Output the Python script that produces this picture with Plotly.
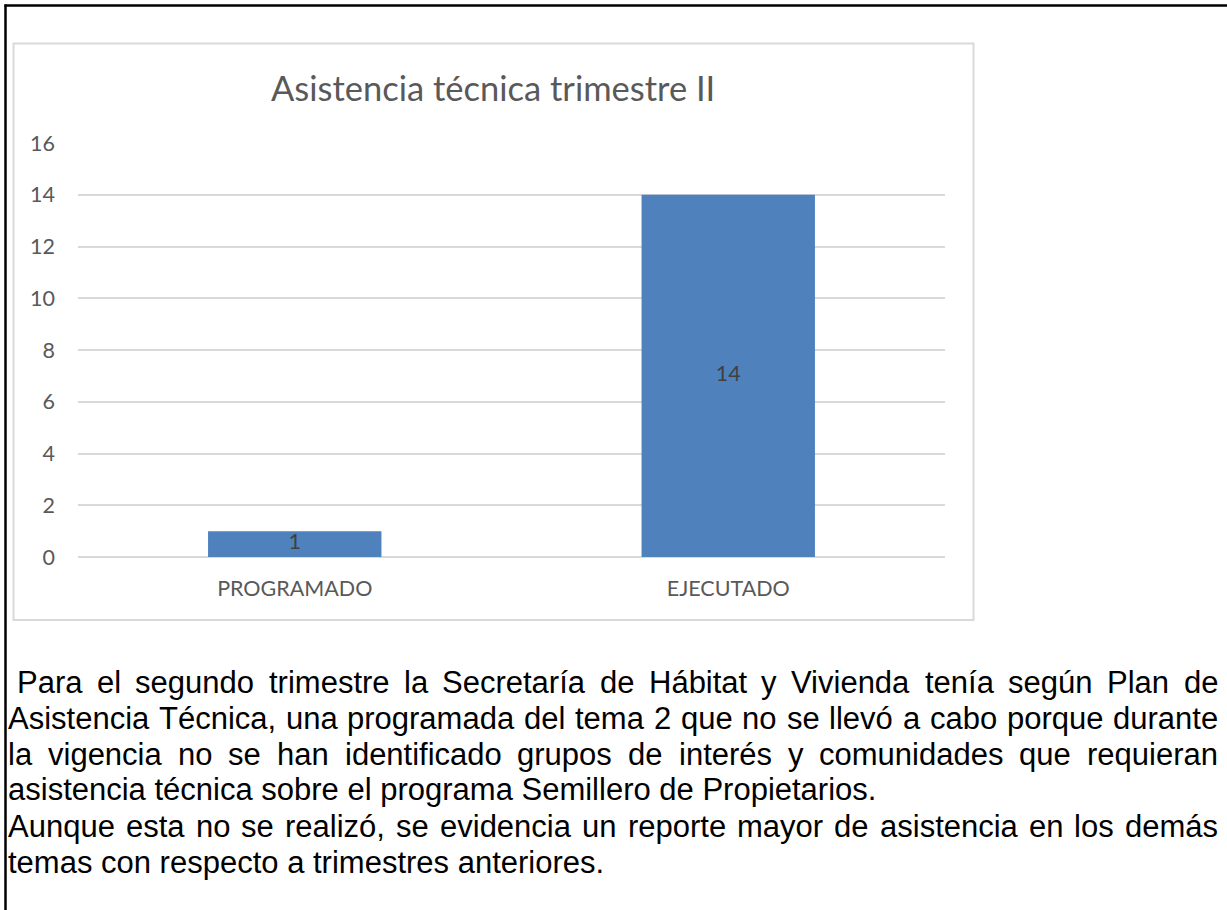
import plotly.graph_objects as go

# ---- data -------------------------------------------------------------
categories = ["PROGRAMADO", "EJECUTADO"]
values = [1, 14]
y_ticks = [0, 2, 4, 6, 8, 10, 12, 14, 16]

title_text = "Asistencia técnica trimestre II"

# paragraph under the chart: (line text, justified?)
paragraph_lines = [
    (" Para el segundo trimestre la Secretaría de Hábitat y Vivienda tenía según Plan de", True),
    ("Asistencia Técnica, una programada del tema 2 que no se llevó a cabo porque durante", True),
    ("la vigencia no se han identificado grupos de interés y comunidades que requieran", True),
    ("asistencia técnica sobre el programa Semillero de Propietarios.", False),
    ("Aunque esta no se realizó, se evidencia un reporte mayor de asistencia en los demás", True),
    ("temas con respecto a trimestres anteriores.", False),
]

# ---- geometry of the page (pixels) -------------------------------------
FIG_W, FIG_H = 1227, 910
PL, PR, PT, PB = 78, 945, 143, 557          # plot area edges
PW, PH = PR - PL, PB - PT


def px_x(p):
    return (p - PL) / PW


def px_y(p):
    return (PB - p) / PH


CHART_FONT = "Lato"
TEXT_FONT = "Liberation Sans"
GREY = "#595959"
TICK_SIZE = 21.5

fig = go.Figure()

fig.add_trace(go.Bar(
    x=categories, y=values,
    marker=dict(color="#4F81BD", line=dict(width=0)),
    hoverinfo="skip",
))

# value labels centred in each bar
fig.add_trace(go.Scatter(
    x=categories, y=[v / 2 for v in values],
    text=[str(v) for v in values],
    mode="text",
    textposition="middle center",
    textfont=dict(family=CHART_FONT, size=TICK_SIZE, color="#404040"),
    hoverinfo="skip",
))

shapes = [
    # chart frame
    dict(type="rect", xref="paper", yref="paper",
         x0=px_x(13.5), x1=px_x(973.5), y0=px_y(620), y1=px_y(43.5),
         line=dict(color="#D9D9D9", width=2), fillcolor="rgba(0,0,0,0)", layer="below"),
    # page border (left and top)
    dict(type="line", xref="paper", yref="paper",
         x0=px_x(5.5), x1=px_x(5.5), y0=px_y(4.5), y1=px_y(912),
         line=dict(color="black", width=2.5)),
    dict(type="line", xref="paper", yref="paper",
         x0=px_x(4.5), x1=px_x(1230), y0=px_y(5.5), y1=px_y(5.5),
         line=dict(color="black", width=2.5)),
]

annotations = [
    dict(text=title_text, xref="paper", yref="paper",
         x=px_x(493), y=px_y(87), xanchor="center", yanchor="middle",
         showarrow=False, font=dict(family=CHART_FONT, size=34.5, color=GREY)),
]

# Arial advance widths (em/1000) for the characters in the paragraph
ARIAL = {
    " ": 278, ",": 278, ".": 278, "2": 556,
    "a": 556, "b": 556, "c": 500, "d": 556, "e": 556, "f": 278, "g": 556,
    "h": 556, "i": 222, "j": 222, "k": 500, "l": 222, "m": 833, "n": 556,
    "o": 556, "p": 556, "q": 556, "r": 333, "s": 500, "t": 278, "u": 556,
    "v": 500, "w": 722, "x": 500, "y": 500, "z": 500,
    "á": 556, "é": 556, "í": 278, "ó": 556, "ú": 556,
    "A": 667, "H": 722, "P": 667, "S": 667, "T": 611, "V": 667,
}
TEXT_SIZE = 31
TEXT_LEFT, TEXT_RIGHT = 8, 1218
LINE_TOP, LINE_STEP = 682, 36


def word_width(w):
    return sum(ARIAL.get(ch, 556) for ch in w) / 1000 * TEXT_SIZE


para_font = dict(family=TEXT_FONT, size=TEXT_SIZE, color="black")
for i, (line, justified) in enumerate(paragraph_lines):
    yc = px_y(LINE_TOP + i * LINE_STEP)
    left = TEXT_LEFT
    if line.startswith(" "):
        left += word_width(" ")
        line = line.lstrip()
    if not justified:
        annotations.append(dict(text=line, xref="paper", yref="paper",
                                x=px_x(left), y=yc, xanchor="left", yanchor="middle",
                                borderpad=0, borderwidth=0,
                                showarrow=False, font=para_font))
        continue
    words = line.split(" ")
    widths = [word_width(w) for w in words]
    gap = (TEXT_RIGHT - left - sum(widths)) / (len(words) - 1)
    x = left
    for k, (w, ww) in enumerate(zip(words, widths)):
        last = k == len(words) - 1
        annotations.append(dict(text=w, xref="paper", yref="paper",
                                x=px_x(TEXT_RIGHT if last else x), y=yc,
                                xanchor="right" if last else "left", yanchor="middle",
                                borderpad=0, borderwidth=0,
                                showarrow=False, font=para_font))
        x += ww + gap

fig.update_layout(
    width=FIG_W, height=FIG_H,
    margin=dict(l=PL, r=FIG_W - PR, t=PT, b=FIG_H - PB, pad=0, autoexpand=False),
    paper_bgcolor="white", plot_bgcolor="white",
    showlegend=False,
    bargap=0.6,
    shapes=shapes,
    annotations=annotations,
    xaxis=dict(
        showgrid=False, zeroline=False, showline=False, ticks="",
        tickfont=dict(family=CHART_FONT, size=TICK_SIZE, color=GREY),
        ticklabelstandoff=16,
        fixedrange=True,
    ),
    yaxis=dict(
        range=[0, 16], tickvals=y_ticks,
        showgrid=True, gridcolor="#D9D9D9", gridwidth=1.5,
        zeroline=True, zerolinecolor="#D9D9D9", zerolinewidth=1.5,
        showline=False, ticks="",
        tickfont=dict(family=CHART_FONT, size=TICK_SIZE, color=GREY),
        ticklabelstandoff=22,
        fixedrange=True,
    ),
)

fig.write_html("out.html")
